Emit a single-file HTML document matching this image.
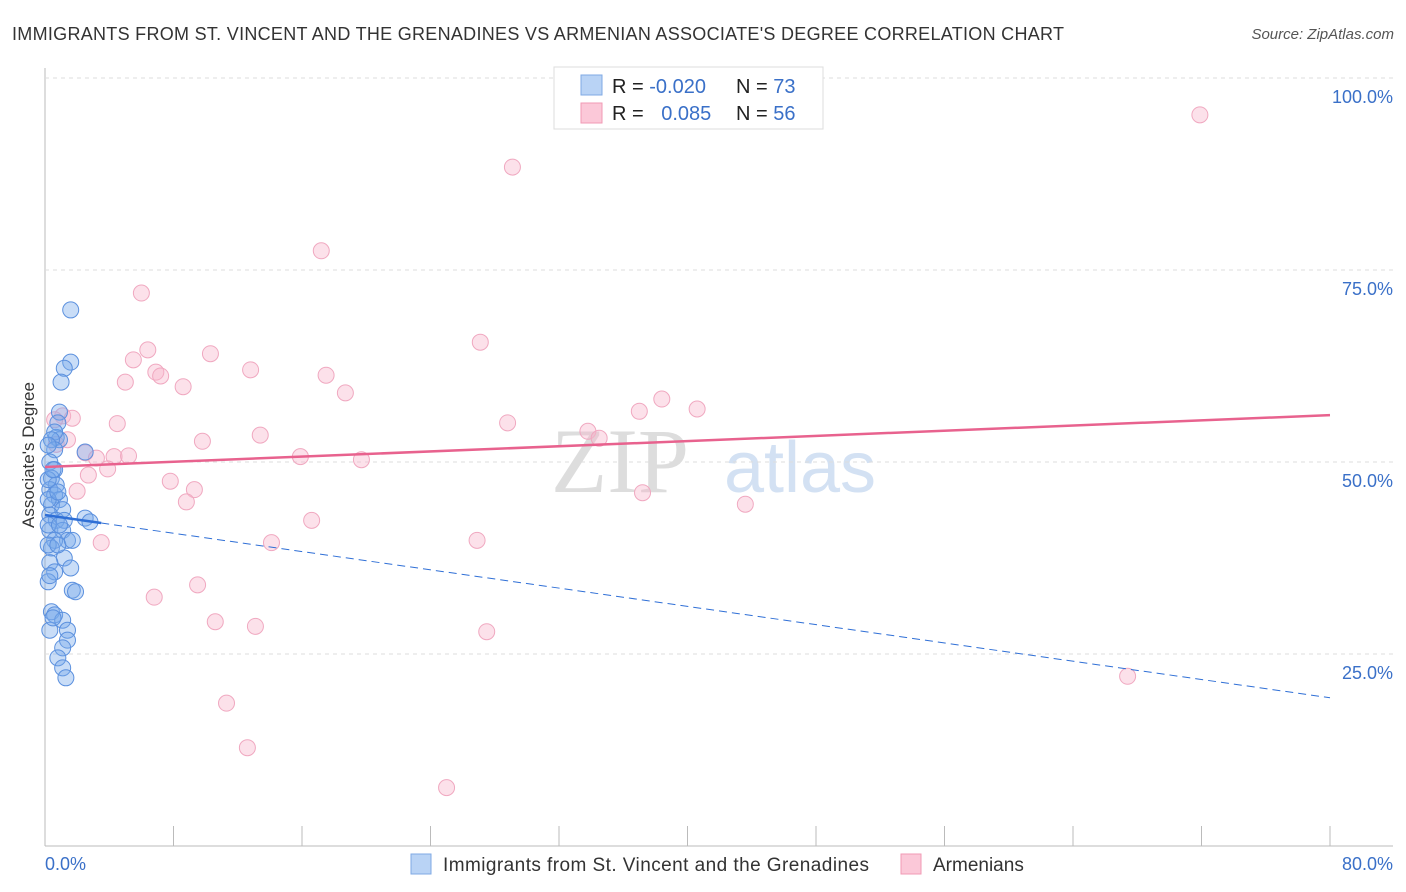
<!DOCTYPE html>
<html><head><meta charset="utf-8"><style>
body{margin:0;background:#fff;font-family:"Liberation Sans",sans-serif;}
svg{display:block}
</style></head><body>
<svg id="c" width="1406" height="892" xmlns="http://www.w3.org/2000/svg">
<text x="12" y="40" font-size="18" fill="#333" textLength="1052">IMMIGRANTS FROM ST. VINCENT AND THE GRENADINES VS ARMENIAN ASSOCIATE'S DEGREE CORRELATION CHART</text>
<text x="1394" y="39" font-size="15" fill="#555" text-anchor="end" font-style="italic">Source: ZipAtlas.com</text>
<text x="620" y="492" font-size="92" fill="#ddd" font-family="Liberation Serif" text-anchor="middle">ZIP</text>
<text x="800" y="492" font-size="72" fill="#d3e1f3" text-anchor="middle">atlas</text>
<g id="grid"></g><g id="marks"></g>
<text transform="translate(34,455) rotate(-90)" font-size="17" fill="#333" text-anchor="middle">Associate's Degree</text>
<g>
<rect x="554" y="67" width="269" height="62" fill="#fff" stroke="#ddd"/>
<rect x="581" y="75" width="21" height="20" fill="#b9d3f5" stroke="#7fa9e4"/>
<rect x="581" y="103" width="21" height="20" fill="#fbc8d8" stroke="#f09ab4"/>
<text x="612" y="93" font-size="20" fill="#222">R = <tspan fill="#3a70c8">-0.020</tspan></text>
<text x="736" y="93" font-size="20" fill="#222">N = <tspan fill="#3a70c8">73</tspan></text>
<text x="612" y="120" font-size="20" fill="#222">R = <tspan fill="#3a70c8" dx="12">0.085</tspan></text>
<text x="736" y="120" font-size="20" fill="#222">N = <tspan fill="#3a70c8">56</tspan></text>
</g>
<g>
<rect x="411" y="854" width="20" height="20" fill="#b9d3f5" stroke="#7fa9e4"/>
<text x="443" y="871" font-size="19" fill="#333" textLength="426">Immigrants from St. Vincent and the Grenadines</text>
<rect x="901" y="854" width="20" height="20" fill="#fbc8d8" stroke="#f09ab4"/>
<text x="933" y="871" font-size="19" fill="#333">Armenians</text>
</g>
</svg>
<script>
const yTicks=[25,50,75,100];
const yTickLabels=["25.0%","50.0%","75.0%","100.0%"];
const xTickLabels=["0.0%","80.0%"];
const blueX=[1.6,1.6,1.2,1.0,0.9,0.8,0.7,0.9,0.6,0.4,0.6,2.5,0.3,0.6,0.4,0.7,0.3,0.6,0.9,0.4,1.1,0.3,0.7,1.2,2.5,2.8,0.3,1.1,1.4,0.6,0.4,1.2,0.3,1.6,0.6,0.2,1.7,1.9,0.4,0.6,1.1,0.3,1.4,1.4,1.1,0.8,1.1,1.3,0.2,0.2,0.2,0.2,0.2,0.5,0.8,0.9,0.8,0.3,0.5,1.7];
const blueY=[69.8,63.0,62.2,60.4,56.5,55.1,53.2,52.9,53.9,52.9,51.6,51.3,50.0,49.0,47.9,47.0,46.4,45.7,45.1,44.4,43.8,43.1,42.4,42.4,42.7,42.2,41.1,41.1,39.8,39.8,38.8,37.5,36.9,36.2,35.7,34.4,33.3,33.1,30.5,30.1,29.4,28.1,28.1,26.8,25.8,24.5,23.2,21.9,52.2,47.7,45.1,41.8,39.2,49.0,46.1,41.8,39.2,35.2,29.7,39.8];
const pinkX=[71.9,29.1,17.2,6.0,27.1,6.4,10.3,5.5,6.9,12.8,7.2,17.5,5.0,8.6,18.7,1.1,1.7,4.5,37.0,38.4,40.6,28.8,9.8,13.4,33.8,34.5,1.4,2.5,3.2,4.3,5.2,15.9,19.7,3.9,2.7,7.8,2.0,9.3,8.8,37.2,43.6,16.6,26.9,3.5,14.1,9.5,6.8,10.6,13.1,27.5,67.4,11.3,12.6,25.0,0.6,0.7];
const pinkY=[95.2,88.4,77.5,72.0,65.6,64.6,64.1,63.3,61.7,62.0,61.2,61.3,60.4,59.8,59.0,56.0,55.7,55.0,56.6,58.2,56.9,55.1,52.7,53.5,54.0,53.1,52.9,51.2,50.5,50.7,50.8,50.7,50.3,49.1,48.3,47.5,46.2,46.4,44.8,46.0,44.5,42.4,39.8,39.5,39.5,34.0,32.4,29.2,28.6,27.9,22.1,18.6,12.8,7.6,55.5,52.3];
const blueTrend=[43.1,19.3];
const pinkTrend=[49.35,56.1];
const NS="http://www.w3.org/2000/svg";
const X=v=>45+v/80*1285, Y=v=>846-v/100*768;
function mk(t,a,p){const e=document.createElementNS(NS,t);for(const k in a)e.setAttribute(k,a[k]);p.appendChild(e);return e;}
const g=document.getElementById('grid'),m=document.getElementById('marks');
let ax=mk('line',{x1:45,y1:68,x2:45,y2:846,stroke:'#bbb'},g);

let bx=mk('line',{x1:45,y1:846,x2:1393,y2:846,stroke:'#bbb'},g);

yTicks.forEach((t,i)=>{
 let l=mk('line',{x1:45,y1:Y(t),x2:1393,y2:Y(t),stroke:'#ddd','stroke-dasharray':'4,4'},g);
 
 let tx=mk('text',{x:1393,y:Y(t)+25,'font-size':18,fill:'#3a70c8','text-anchor':'end'},g);
 
 tx.textContent=yTickLabels[i];
});
for(let i=1;i<=10;i++){let l=mk('line',{x1:X(i*8),y1:826,x2:X(i*8),y2:846,stroke:'#bbb'},g);
 }
[[0,'start',45],[80,'end',1393]].forEach((d,i)=>{let t=mk('text',{x:d[2],y:870,'font-size':18,fill:'#3a70c8','text-anchor':d[1]},g);
 t.textContent=xTickLabels[i];});
pinkX.forEach((x,i)=>{let c=mk('circle',{cx:X(x),cy:Y(pinkY[i]),r:8,fill:'rgba(248,180,202,0.4)',stroke:'#f0a8c0','stroke-width':1},m);
 });
blueX.forEach((x,i)=>{let c=mk('circle',{cx:X(x),cy:Y(blueY[i]),r:8,fill:'rgba(120,170,235,0.4)',stroke:'#5b90de','stroke-width':1},m);
 });
const bAt=x=>blueTrend[0]+(blueTrend[1]-blueTrend[0])*x/80;
let b1=mk('line',{x1:X(0),y1:Y(bAt(0)),x2:X(3.5),y2:Y(bAt(3.5)),stroke:'#2f6fd6','stroke-width':2.5},m);

let b2=mk('line',{x1:X(3.5),y1:Y(bAt(3.5)),x2:X(80),y2:Y(bAt(80)),stroke:'#2f6fd6','stroke-width':1,'stroke-dasharray':'8,5'},m);

let p=mk('line',{x1:X(0),y1:Y(pinkTrend[0]),x2:X(80),y2:Y(pinkTrend[1]),stroke:'#e8628e','stroke-width':2.5},m);

</script>
</body></html>
